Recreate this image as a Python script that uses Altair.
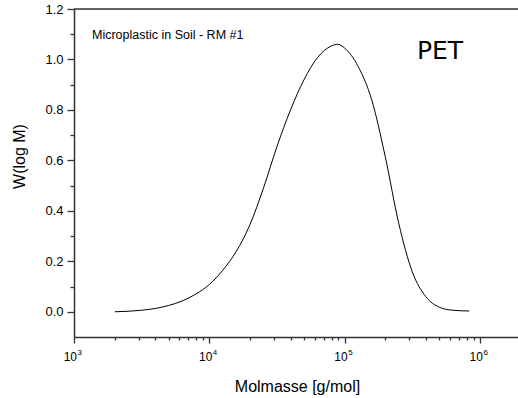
import altair as alt
import pandas as pd

# Molar mass distribution of PET recovered from soil
molmass = [2000, 3160, 3980, 5010, 6310, 7940, 10000, 12590, 15850, 19950,
           25120, 31620, 39810, 50120, 63100, 79430, 89130, 100000, 125900,
           158500, 199500, 251200, 316200, 398100, 501200, 631000, 832000]
w_logm = [0.000, 0.006, 0.013, 0.025, 0.043, 0.070, 0.108, 0.165, 0.240, 0.345,
          0.490, 0.655, 0.800, 0.920, 1.008, 1.053, 1.060, 1.045, 0.972,
          0.840, 0.615, 0.350, 0.158, 0.060, 0.018, 0.006, 0.003]

decades = [1000, 10000, 100000, 1000000]
decade_exp = ["3", "4", "5", "6"]
x_ticks = [m * d for d in [1000, 10000, 100000] for m in range(1, 10)] + [1000000]
y_ticks = [round(i * 0.1, 1) for i in range(0, 13)]

W, H = 444, 328
FONT = "Liberation Sans"
AXIS_COLOR = "#333333"

curve = pd.DataFrame({"M": molmass, "W": w_logm})
dec = pd.DataFrame({"M": decades, "exp": decade_exp})
one = pd.DataFrame({"k": [0]})  # single row for annotations

x_scale = alt.Scale(type="log", domain=[1000, 1910000])
y_scale = alt.Scale(domain=[-0.1, 1.2])

line = alt.Chart(curve).mark_line(
    color="black", strokeWidth=1, interpolate="monotone"
).encode(
    x=alt.X("M:Q", scale=x_scale,
            axis=alt.Axis(values=x_ticks, labels=False, grid=False,
                          domainColor=AXIS_COLOR, domainWidth=1.5,
                          tickColor=AXIS_COLOR, tickWidth=1.3,
                          tickSize={"condition": {
                              "test": "indexof([1000,10000,100000,1000000], datum.value) >= 0",
                              "value": 6}, "value": 3},
                          title="Molmasse [g/mol]", titleFont=FONT,
                          titleFontSize=16, titleFontWeight="normal",
                          titleColor="black", titleX=223, titleY=54,
                          titleAlign="center", titleBaseline="alphabetic")),
    y=alt.Y("W:Q", scale=y_scale,
            axis=alt.Axis(values=y_ticks, grid=False,
                          labelExpr="round(datum.value*10) % 2 == 0 ? format(datum.value, '.1f') : ''",
                          labelFont=FONT, labelFontSize=13, labelColor="black",
                          labelPadding=4,
                          domainColor=AXIS_COLOR, domainWidth=1.5,
                          tickColor=AXIS_COLOR, tickWidth=1.3,
                          tickSize={"condition": {
                              "test": "round(datum.value*10) % 2 == 0",
                              "value": 7}, "value": 4},
                          title="W(log M)", titleFont=FONT, titleFontSize=16,
                          titleFontWeight="normal", titleColor="black",
                          titleX=-50, titleY=147, titleAngle=270,
                          titleAlign="center", titleBaseline="alphabetic")),
)

# Tick labels as powers of ten
base_lbl = alt.Chart(dec).mark_text(
    font=FONT, fontSize=12, fontWeight="normal", align="right",
    baseline="alphabetic", dx=3, color="black"
).encode(x=alt.X("M:Q", scale=x_scale), y=alt.value(352), text=alt.value("10"))

exp_lbl = alt.Chart(dec).mark_text(
    font=FONT, fontSize=8, fontWeight="normal", align="left",
    baseline="alphabetic", dx=3.5, color="black"
).encode(x=alt.X("M:Q", scale=x_scale), y=alt.value(346), text="exp:N")

top_border = alt.Chart(one).mark_rule(color=AXIS_COLOR, strokeWidth=1.5).encode(
    x=alt.value(0), x2=alt.value(W), y=alt.value(0)
)

sample = alt.Chart(one).mark_text(
    font=FONT, fontSize=12.5, fontWeight="normal", align="left",
    baseline="alphabetic", color="black"
).encode(x=alt.value(18), y=alt.value(30), text=alt.value("Microplastic in Soil - RM #1"))

polymer = alt.Chart(one).mark_text(
    font="DejaVu Sans", fontSize=25, fontWeight="normal", align="left",
    baseline="alphabetic", color="black"
).encode(x=alt.value(343), y=alt.value(50), text=alt.value("PET"))

chart = alt.layer(line, base_lbl, exp_lbl, top_border, sample, polymer).properties(
    width=W, height=H,
    autosize=alt.AutoSizeParams(type="none"),
    padding={"left": 74, "top": 9, "right": 0, "bottom": 61},
).configure_view(stroke=None).configure(background="white")

chart.save("out.html", embed_options={"renderer": "svg", "actions": False})
